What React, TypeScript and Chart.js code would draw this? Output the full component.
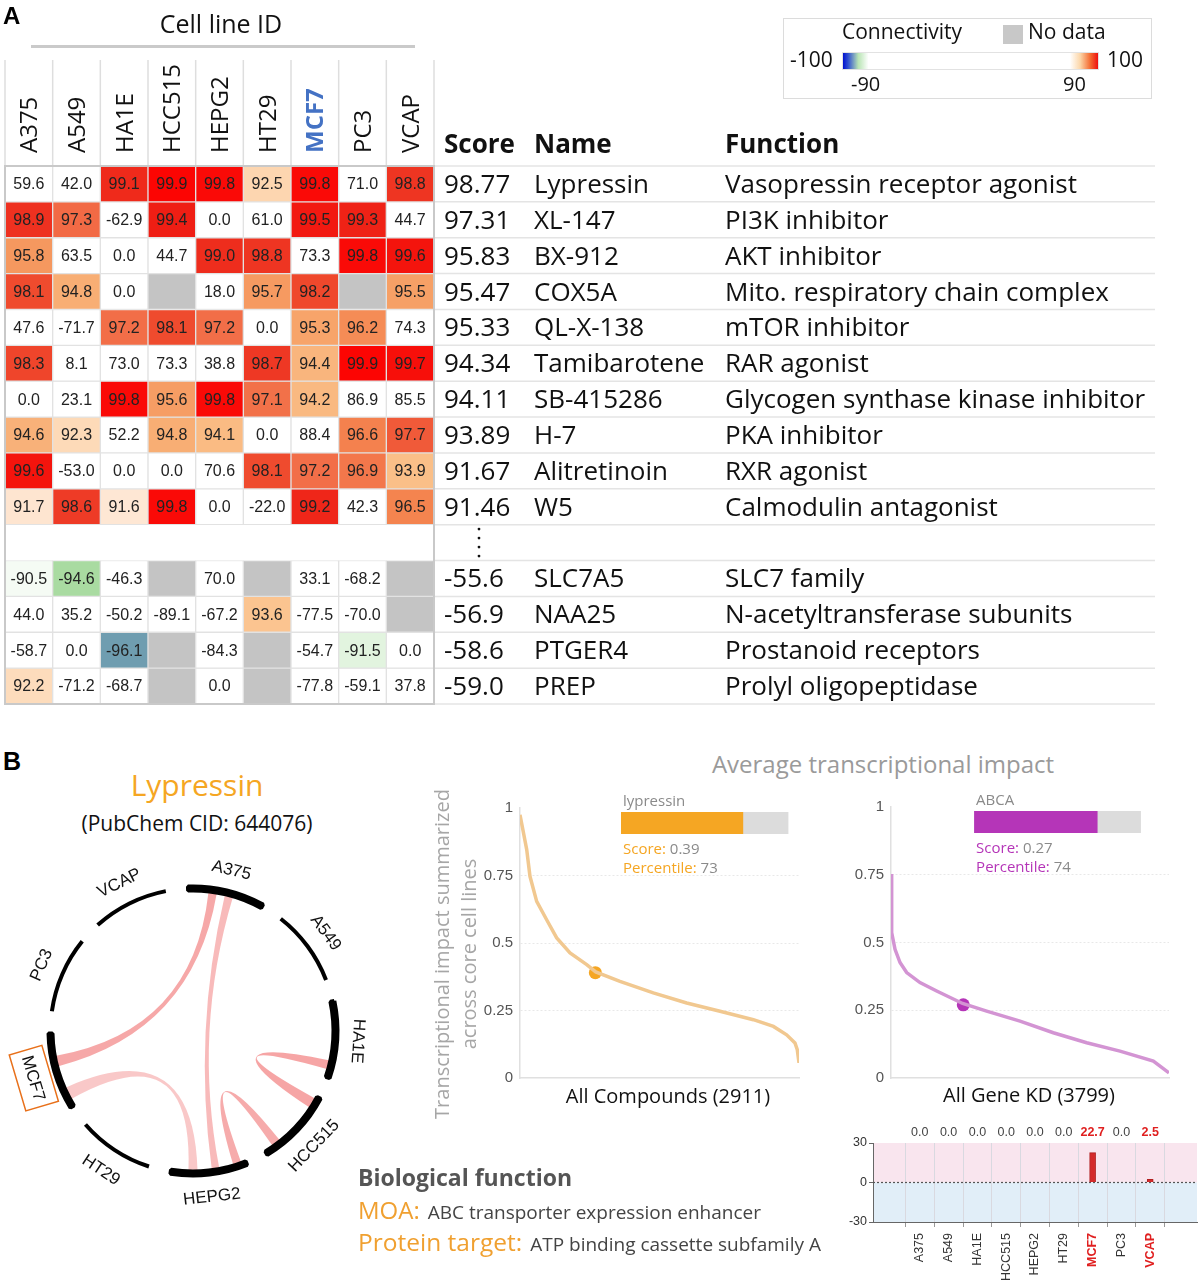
import React, { useEffect, useRef } from 'react';
import { Chart, registerables } from 'chart.js';

Chart.register(...registerables);

const OPEN = '"Open Sans", "Noto Sans", sans-serif';
const ARIAL = '"Liberation Sans", Arial, sans-serif';

// ---------------- Panel A data ----------------
const cellLines = ['A375', 'A549', 'HA1E', 'HCC515', 'HEPG2', 'HT29', 'MCF7', 'PC3', 'VCAP'];
const highlightedLine = 'MCF7';

const topScores = [98.77, 97.31, 95.83, 95.47, 95.33, 94.34, 94.11, 93.89, 91.67, 91.46];
const topNames = ['Lypressin', 'XL-147', 'BX-912', 'COX5A', 'QL-X-138', 'Tamibarotene', 'SB-415286', 'H-7', 'Alitretinoin', 'W5'];
const topFunctions = [
  'Vasopressin receptor agonist', 'PI3K inhibitor', 'AKT inhibitor', 'Mito. respiratory chain complex',
  'mTOR inhibitor', 'RAR agonist', 'Glycogen synthase kinase inhibitor', 'PKA inhibitor', 'RXR agonist',
  'Calmodulin antagonist',
];
const topConnectivity: (number | null)[][] = [
  [59.6, 42.0, 99.1, 99.9, 99.8, 92.5, 99.8, 71.0, 98.8],
  [98.9, 97.3, -62.9, 99.4, 0.0, 61.0, 99.5, 99.3, 44.7],
  [95.8, 63.5, 0.0, 44.7, 99.0, 98.8, 73.3, 99.8, 99.6],
  [98.1, 94.8, 0.0, null, 18.0, 95.7, 98.2, null, 95.5],
  [47.6, -71.7, 97.2, 98.1, 97.2, 0.0, 95.3, 96.2, 74.3],
  [98.3, 8.1, 73.0, 73.3, 38.8, 98.7, 94.4, 99.9, 99.7],
  [0.0, 23.1, 99.8, 95.6, 99.8, 97.1, 94.2, 86.9, 85.5],
  [94.6, 92.3, 52.2, 94.8, 94.1, 0.0, 88.4, 96.6, 97.7],
  [99.6, -53.0, 0.0, 0.0, 70.6, 98.1, 97.2, 96.9, 93.9],
  [91.7, 98.6, 91.6, 99.8, 0.0, -22.0, 99.2, 42.3, 96.5],
];

const bottomScores = [-55.6, -56.9, -58.6, -59.0];
const bottomNames = ['SLC7A5', 'NAA25', 'PTGER4', 'PREP'];
const bottomFunctions = ['SLC7 family', 'N-acetyltransferase subunits', 'Prostanoid receptors', 'Prolyl oligopeptidase'];
const bottomConnectivity: (number | null)[][] = [
  [-90.5, -94.6, -46.3, null, 70.0, null, 33.1, -68.2, null],
  [44.0, 35.2, -50.2, -89.1, -67.2, 93.6, -77.5, -70.0, null],
  [-58.7, 0.0, -96.1, null, -84.3, null, -54.7, -91.5, 0.0],
  [92.2, -71.2, -68.7, null, 0.0, null, -77.8, -59.1, 37.8],
];

const positiveStops: [number, string][] = [
  [90, '#ffffff'], [91.5, '#fee9d8'], [92.5, '#fdd6b0'], [94, '#fabd85'], [95.5, '#f6a066'],
  [96.5, '#f4844f'], [97.2, '#f26e48'], [98, '#ef4e30'], [98.8, '#ee3522'], [99.4, '#ef1e14'], [100, '#ff0000'],
];
const negativeStops: [number, string][] = [
  [-100, '#0010d0'], [-97.5, '#4a72b8'], [-96.1, '#6f9db0'], [-94.6, '#a9dba1'], [-91.5, '#e2f4df'], [-90, '#ffffff'],
];
const noDataColor = '#c4c4c4';

// ---------------- Panel B data ----------------
const compoundName = 'lypressin';
const compoundScore = 0.39;
const compoundPercentile = 73;
const compoundTotal = 2911;
const compoundRank = [0, 70, 104, 174, 278, 383, 522, 696, 790, 1043, 1391, 1739, 2087, 2435, 2644, 2782, 2869, 2893, 2911];
const compoundImpact = [0.975, 0.846, 0.747, 0.654, 0.586, 0.519, 0.463, 0.42, 0.393, 0.358, 0.315, 0.278, 0.247, 0.216, 0.191, 0.16, 0.13, 0.105, 0.056];

const geneName = 'ABCA';
const geneScore = 0.27;
const genePercentile = 74;
const geneTotal = 3799;
const geneRank = [0, 9, 55, 123, 214, 396, 624, 979, 1307, 1763, 2218, 2674, 3129, 3585, 3799];
const geneImpact = [0.753, 0.537, 0.475, 0.426, 0.389, 0.352, 0.321, 0.275, 0.247, 0.21, 0.167, 0.13, 0.099, 0.062, 0.019];

const impactTicks = [0, 0.25, 0.5, 0.75, 1];

const lineConnectivity = [0.0, 0.0, 0.0, 0.0, 0.0, 0.0, 22.7, 0.0, 2.5];

const ringThick = [true, false, true, true, true, false, true, false, false];
const ringSegment = 31;
const ringGap = 9;
const chordSource = ['A375', 'A375', 'MCF7', 'HA1E', 'HCC515'];
const chordTarget = ['MCF7', 'HEPG2', 'HEPG2', 'HCC515', 'HEPG2'];
const chordSourceSpan = [[0.27, 0.38], [0.49, 0.6], [0.09, 0.26], [0.78, 0.9], [0.76, 0.88]];
const chordTargetSpan = [[0.56, 0.7], [0.36, 0.46], [0.65, 0.77], [0.03, 0.17], [0.06, 0.17]];
const chordOpacity = [0.6, 0.48, 0.38, 0.62, 0.58];

// ---------------- helpers ----------------
function hexToRgb(h: string) {
  return [parseInt(h.slice(1, 3), 16), parseInt(h.slice(3, 5), 16), parseInt(h.slice(5, 7), 16)];
}
function interp(stops: [number, string][], v: number) {
  if (v <= stops[0][0]) return stops[0][1];
  for (let i = 1; i < stops.length; i++) {
    if (v <= stops[i][0]) {
      const [v0, c0] = stops[i - 1];
      const [v1, c1] = stops[i];
      const t = (v - v0) / (v1 - v0);
      const a = hexToRgb(c0), b = hexToRgb(c1);
      const m = a.map((x, k) => Math.round(x + (b[k] - x) * t));
      return `rgb(${m[0]},${m[1]},${m[2]})`;
    }
  }
  return stops[stops.length - 1][1];
}
function connectivityColor(v: number | null) {
  if (v === null) return noDataColor;
  if (v >= 90) return interp(positiveStops, v);
  if (v <= -90) return interp(negativeStops, v);
  return '#ffffff';
}
function isHighlightTick(c: any) {
  if (!c || !c.tick) return false;
  return lineConnectivity[c.tick.value - 1] > 0;
}

const heatRows = [
  ...topConnectivity.map((vals, i) => ({ row: i, vals, score: topScores[i].toFixed(2), name: topNames[i], fn: topFunctions[i] })),
  ...bottomConnectivity.map((vals, i) => ({
    row: topConnectivity.length + 1 + i, vals, score: bottomScores[i].toFixed(1), name: bottomNames[i], fn: bottomFunctions[i],
  })),
];
const totalRows = topConnectivity.length + 1 + bottomConnectivity.length;

// ---------------- Heatmap chart ----------------
function buildHeatmap() {
  const plugin = {
    id: 'heatText',
    afterDraw(chart: any) {
      const { ctx, chartArea: ca } = chart;
      const xs = chart.scales.x, ys = chart.scales.y;
      ctx.save();
      ctx.strokeStyle = '#dedede';
      ctx.lineWidth = 1.5;
      for (let c = 0; c <= cellLines.length; c++) {
        const x = xs.getPixelForValue(c - 0.5);
        ctx.beginPath();
        ctx.moveTo(x, 60);
        ctx.lineTo(x, ca.top);
        ctx.stroke();
      }
      cellLines.forEach((name, c) => {
        const hl = name === highlightedLine;
        ctx.save();
        ctx.translate(xs.getPixelForValue(c) + 8.5, ca.top - 13);
        ctx.rotate(-Math.PI / 2);
        ctx.font = `${hl ? 'bold ' : ''}24px ${OPEN}`;
        ctx.fillStyle = hl ? '#4472c4' : '#111';
        ctx.textAlign = 'left';
        ctx.textBaseline = 'alphabetic';
        ctx.fillText(name, 0, 0);
        ctx.restore();
      });
      ctx.font = `16px ${ARIAL}`;
      ctx.fillStyle = '#222';
      ctx.textAlign = 'center';
      ctx.textBaseline = 'middle';
      heatRows.forEach(({ row, vals }) => {
        vals.forEach((v, c) => {
          if (v === null) return;
          ctx.fillText(v.toFixed(1), xs.getPixelForValue(c), ys.getPixelForValue(row + 0.5) + 1);
        });
      });
      ctx.strokeStyle = '#c9c9c9';
      ctx.lineWidth = 2;
      ctx.strokeRect(ca.left, ca.top, ca.right - ca.left, ca.bottom - ca.top);
      ctx.strokeStyle = '#e4e4e4';
      ctx.lineWidth = 1.5;
      for (let r = 0; r <= totalRows; r++) {
        const y = ys.getPixelForValue(r);
        ctx.beginPath();
        ctx.moveTo(ca.right + 1, y);
        ctx.lineTo(1155, y);
        ctx.stroke();
      }
      const colScore = 444, colName = 534, colFn = 725;
      ctx.fillStyle = '#111';
      ctx.textAlign = 'left';
      ctx.textBaseline = 'alphabetic';
      ctx.font = `bold 26px ${OPEN}`;
      ctx.fillText('Score', colScore, ca.top - 13);
      ctx.fillText('Name', colName, ca.top - 13);
      ctx.fillText('Function', colFn, ca.top - 13);
      ctx.font = `26px ${OPEN}`;
      heatRows.forEach(({ row, score, name, fn }) => {
        const y = ys.getPixelForValue(row + 0.5) + 9;
        ctx.fillText(score, colScore, y);
        ctx.fillText(name, colName, y);
        ctx.fillText(fn, colFn, y);
      });
      const gy = ys.getPixelForValue(topConnectivity.length + 0.5);
      ctx.fillStyle = '#111';
      [-13.5, -4.5, 4.5, 13.5].forEach((d) => {
        ctx.beginPath();
        ctx.arc(479, gy + d, 1.4, 0, Math.PI * 2);
        ctx.fill();
      });
      ctx.restore();
    },
  };
  return {
    type: 'bar',
    data: {
      labels: cellLines,
      datasets: heatRows.map(({ row, vals }) => ({
        data: vals.map(() => [row, row + 1]),
        backgroundColor: vals.map(connectivityColor),
        borderColor: '#e2e2e2',
        borderWidth: 1,
        borderSkipped: false,
        grouped: false,
        barPercentage: 1,
        categoryPercentage: 1,
      })),
    },
    options: {
      animation: false,
      responsive: true,
      maintainAspectRatio: false,
      layout: { padding: { left: 5, right: 726, top: 166, bottom: 8 } },
      plugins: { legend: { display: false }, tooltip: { enabled: false } },
      scales: {
        x: { display: false, offset: true },
        y: { type: 'linear', display: false, min: 0, max: totalRows, reverse: true },
      },
    },
    plugins: [plugin],
  };
}

// ---------------- Chord (doughnut) chart ----------------
const RING_OUTER = 144.5;
const RING_INNER = 140.5;

function buildChord() {
  const plugin = {
    id: 'chords',
    beforeDatasetsDraw(chart: any) {
      const meta = chart.getDatasetMeta(0);
      const el0: any = meta.data[0];
      const cx = el0.x, cy = el0.y;
      const r = el0.innerRadius - 1.5;
      const ang = (line: string, f: number) => {
        const el: any = meta.data[2 * cellLines.indexOf(line)];
        return el.startAngle + f * (el.endAngle - el.startAngle);
      };
      const pt = (a: number) => [cx + r * Math.cos(a), cy + r * Math.sin(a)];
      const ctx = chart.ctx;
      ctx.save();
      chordSource.forEach((src, i) => {
        const s0 = ang(src, chordSourceSpan[i][0]);
        const s1 = ang(src, chordSourceSpan[i][1]);
        const t0 = ang(chordTarget[i], chordTargetSpan[i][0]);
        const t1 = ang(chordTarget[i], chordTargetSpan[i][1]);
        ctx.beginPath();
        const p0 = pt(s0);
        ctx.moveTo(p0[0], p0[1]);
        ctx.arc(cx, cy, r, s0, s1);
        const pt0 = pt(t0);
        ctx.quadraticCurveTo(cx, cy, pt0[0], pt0[1]);
        ctx.arc(cx, cy, r, t0, t1);
        ctx.quadraticCurveTo(cx, cy, p0[0], p0[1]);
        ctx.closePath();
        ctx.fillStyle = `rgba(240,110,110,${chordOpacity[i]})`;
        ctx.fill();
      });
      ctx.restore();
    },
    afterDatasetsDraw(chart: any) {
      const meta = chart.getDatasetMeta(0);
      const ctx = chart.ctx;
      ctx.save();
      ctx.font = `17px ${ARIAL}`;
      ctx.fillStyle = '#111';
      ctx.textAlign = 'center';
      ctx.textBaseline = 'middle';
      cellLines.forEach((name, k) => {
        const el: any = meta.data[2 * k];
        const mid = (el.startAngle + el.endAngle) / 2;
        let deg = (mid * 180) / Math.PI + 90;
        deg = ((deg % 360) + 360) % 360;
        let rot = deg;
        if (deg > 100 && deg < 260) rot = deg - 180;
        else if (deg >= 260) rot = deg - 360;
        const R = 166;
        ctx.save();
        ctx.translate(el.x + R * Math.cos(mid), el.y + R * Math.sin(mid));
        ctx.rotate((rot * Math.PI) / 180);
        ctx.fillText(name, 0, 1);
        if (name === highlightedLine) {
          const w = ctx.measureText(name).width;
          ctx.strokeStyle = '#e8701a';
          ctx.lineWidth = 1.5;
          ctx.strokeRect(-w / 2 - 6, -17, w + 12, 34);
        }
        ctx.restore();
      });
      ctx.restore();
    },
  };
  return {
    type: 'doughnut',
    data: {
      labels: cellLines.flatMap((n) => [n, '']),
      datasets: [
        {
          data: cellLines.flatMap(() => [ringSegment, ringGap]),
          backgroundColor: (c: any) => (c.dataIndex % 2 === 0 ? '#000000' : 'rgba(0,0,0,0)'),
          borderColor: '#000000',
          borderWidth: (c: any) => (c.dataIndex !== undefined && c.dataIndex % 2 === 0 && ringThick[c.dataIndex / 2] ? 4 : 0),
          hoverOffset: 0,
        },
      ],
    },
    options: {
      animation: false,
      responsive: true,
      maintainAspectRatio: false,
      rotation: -2,
      radius: RING_OUTER,
      cutout: `${(RING_INNER / RING_OUTER) * 100}%`,
      layout: { padding: 0 },
      plugins: { legend: { display: false }, tooltip: { enabled: false } },
    },
    plugins: [plugin],
  };
}

// ---------------- Impact curve charts ----------------
function buildImpact(cfg: {
  rank: number[]; impact: number[]; total: number; score: number; percentile: number; name: string;
  line: string; marker: string; insetStart: number; leftW: number; bottomH: number; padTop: number; padRight: number;
}) {
  const markerRank = (cfg.total * (100 - cfg.percentile)) / 100;
  const plugin = {
    id: 'inset',
    afterDraw(chart: any) {
      const { ctx, chartArea: ca } = chart;
      const w = ca.right - ca.left;
      const x0 = ca.left + w * cfg.insetStart;
      const bw = w * 0.6;
      const y0 = ca.top + 4;
      ctx.save();
      ctx.fillStyle = '#dcdcdc';
      ctx.fillRect(x0, y0, bw, 22);
      ctx.fillStyle = cfg.marker;
      ctx.fillRect(x0, y0, (bw * cfg.percentile) / 100, 22);
      ctx.textAlign = 'left';
      ctx.textBaseline = 'alphabetic';
      ctx.font = `15px ${OPEN}`;
      ctx.fillStyle = '#8a8a8a';
      ctx.fillText(cfg.name, x0 + 2, ca.top - 2);
      ctx.font = `15px ${OPEN}`;
      const lines: [string, string, number][] = [
        ['Score: ', cfg.score.toFixed(2), 46],
        ['Percentile: ', String(cfg.percentile), 65],
      ];
      lines.forEach(([lab, val, dy]) => {
        ctx.fillStyle = cfg.marker;
        ctx.fillText(lab, x0 + 2, ca.top + dy);
        const lw = ctx.measureText(lab).width;
        ctx.fillStyle = '#8a8a8a';
        ctx.fillText(val, x0 + 2 + lw, ca.top + dy);
      });
      ctx.restore();
    },
  };
  return {
    type: 'scatter',
    data: {
      datasets: [
        {
          data: cfg.rank.map((x, i) => ({ x, y: cfg.impact[i] })),
          showLine: true,
          borderColor: cfg.line,
          borderWidth: 3.5,
          pointRadius: 0,
          tension: 0,
        },
        {
          data: [{ x: markerRank, y: cfg.score }],
          pointRadius: 6.5,
          backgroundColor: cfg.marker,
          borderWidth: 0,
        },
      ],
    },
    options: {
      animation: false,
      responsive: true,
      maintainAspectRatio: false,
      layout: { padding: { left: 0, top: cfg.padTop, right: cfg.padRight, bottom: 0 } },
      plugins: { legend: { display: false }, tooltip: { enabled: false } },
      scales: {
        x: {
          type: 'linear', min: 0, max: cfg.total,
          ticks: { display: false },
          grid: { display: false, drawTicks: false },
          border: { color: '#e0e0e0', width: 1.5 },
          afterFit: (s: any) => { s.height = cfg.bottomH; },
        },
        y: {
          min: 0, max: 1,
          afterBuildTicks: (s: any) => { s.ticks = impactTicks.map((v) => ({ value: v })); },
          ticks: {
            callback: (v: any) => String(v),
            color: '#555',
            font: { family: ARIAL, size: 15 },
            padding: 7,
          },
          grid: {
            color: (c: any) => (c && c.tick && c.tick.value > 0 && c.tick.value < 1 ? '#e8e8e8' : 'rgba(0,0,0,0)'),
            drawTicks: false,
          },
          border: { color: '#e0e0e0', width: 1.5, dash: [2, 2] },
          afterFit: (s: any) => { s.width = cfg.leftW; },
        },
      },
    },
    plugins: [plugin],
  };
}

// ---------------- Per cell line bar chart ----------------
function buildLineBars() {
  const plugin = {
    id: 'bands',
    beforeDraw(chart: any) {
      const { ctx, chartArea: ca } = chart;
      const y0 = chart.scales.y.getPixelForValue(0);
      ctx.save();
      ctx.fillStyle = '#f9e5ee';
      ctx.fillRect(ca.left, ca.top, ca.right - ca.left, y0 - ca.top);
      ctx.fillStyle = '#e1eef8';
      ctx.fillRect(ca.left, y0, ca.right - ca.left, ca.bottom - y0);
      ctx.restore();
    },
    beforeDatasetsDraw(chart: any) {
      const { ctx, chartArea: ca } = chart;
      const y0 = chart.scales.y.getPixelForValue(0);
      ctx.save();
      ctx.strokeStyle = '#555';
      ctx.lineWidth = 1.2;
      ctx.setLineDash([2, 2]);
      ctx.beginPath();
      ctx.moveTo(ca.left, y0);
      ctx.lineTo(ca.right, y0);
      ctx.stroke();
      ctx.restore();
    },
    afterDraw(chart: any) {
      const { ctx, chartArea: ca } = chart;
      const xs = chart.scales.x;
      ctx.save();
      ctx.textAlign = 'center';
      ctx.textBaseline = 'alphabetic';
      lineConnectivity.forEach((v, i) => {
        const hl = v > 0;
        ctx.font = `${hl ? 'bold ' : ''}12.5px ${ARIAL}`;
        ctx.fillStyle = hl ? '#e02020' : '#444';
        ctx.fillText(v.toFixed(1), xs.getPixelForValue(i + 1), ca.top - 7);
      });
      ctx.restore();
    },
  };
  return {
    type: 'bar',
    data: {
      datasets: [
        {
          data: lineConnectivity.map((v, i) => ({ x: i + 1, y: v })),
          backgroundColor: (c: any) => (c && c.raw && c.raw.y !== 0 ? '#d42a2a' : 'rgba(0,0,0,0)'),
          borderColor: '#b01e1e',
          borderWidth: (c: any) => (c && c.raw && c.raw.y !== 0 ? 1 : 0),
          barThickness: 6,
        },
      ],
    },
    options: {
      animation: false,
      responsive: true,
      maintainAspectRatio: false,
      layout: { padding: { left: 0, top: 25, right: 3, bottom: 0 } },
      plugins: { legend: { display: false }, tooltip: { enabled: false } },
      scales: {
        x: {
          type: 'linear', min: 0, max: cellLines.length + 1,
          afterBuildTicks: (s: any) => { s.ticks = cellLines.map((_, i) => ({ value: i + 1 })); },
          ticks: {
            autoSkip: false, minRotation: 90, maxRotation: 90, padding: 6,
            callback: (v: any) => cellLines[v - 1] ?? '',
            color: (c: any) => (isHighlightTick(c) ? '#e02020' : '#333'),
            font: (c: any) => ({ family: ARIAL, size: 12.5, weight: isHighlightTick(c) ? 'bold' : 'normal' }),
          },
          grid: { color: '#d9d9e0', tickLength: 5, tickColor: '#999' },
          border: { color: '#666', width: 1 },
          afterFit: (s: any) => { s.height = 65; },
        },
        y: {
          min: -30, max: 30,
          ticks: { stepSize: 30, color: '#333', font: { family: ARIAL, size: 12.5 }, padding: 2 },
          grid: { drawOnChartArea: false, tickLength: 4, tickColor: '#666' },
          border: { color: '#666', width: 1 },
          afterFit: (s: any) => { s.width = 33; },
        },
      },
    },
    plugins: [plugin],
  };
}

// ---------------- components ----------------
function ChartCanvas({ left, top, width, height, build }: { left: number; top: number; width: number; height: number; build: () => any }) {
  const ref = useRef<HTMLCanvasElement | null>(null);
  useEffect(() => {
    if (!ref.current) return;
    let chart: any = null;
    try {
      chart = new Chart(ref.current, build());
    } catch (e) {
      console.error(e);
    }
    return () => { if (chart) chart.destroy(); };
  }, []);
  return (
    <div style={{ position: 'absolute', left, top, width, height }}>
      <canvas ref={ref} />
    </div>
  );
}

const bt = (baseline: number, size: number) => baseline - 0.888 * size;

function Txt(p: { left: number; top: number; size: number; color?: string; weight?: any; family?: string; width?: number; align?: any; children: any; style?: any }) {
  return (
    <div
      style={{
        position: 'absolute', left: p.left, top: p.top, fontSize: p.size, lineHeight: 1, color: p.color || '#222',
        fontWeight: p.weight || 400, fontFamily: p.family || OPEN, whiteSpace: 'nowrap', width: p.width, textAlign: p.align,
        ...(p.style || {}),
      }}
    >
      {p.children}
    </div>
  );
}

export default function App() {
  return (
    <div style={{ position: 'absolute', left: 0, top: 0, width: 1200, height: 1287, background: '#fff', overflow: 'hidden', fontFamily: OPEN }}>
      <ChartCanvas left={0} top={0} width={1160} height={712} build={buildHeatmap} />
      <ChartCanvas left={0} top={843} width={386} height={376} build={buildChord} />
      <ChartCanvas
        left={425} top={780} width={385} height={345}
        build={() => buildImpact({
          rank: compoundRank, impact: compoundImpact, total: compoundTotal, score: compoundScore, percentile: compoundPercentile,
          name: compoundName, line: '#f1c890', marker: '#f5a623', insetStart: 0.362, leftW: 95, bottomH: 47, padTop: 28, padRight: 11,
        })}
      />
      <ChartCanvas
        left={830} top={780} width={355} height={320}
        build={() => buildImpact({
          rank: geneRank, impact: geneImpact, total: geneTotal, score: geneScore, percentile: genePercentile,
          name: geneName, line: '#d394d3', marker: '#b535b8', insetStart: 0.299, leftW: 61, bottomH: 22, padTop: 27, padRight: 16,
        })}
      />
      <ChartCanvas left={840} top={1118} width={360} height={169} build={buildLineBars} />

      <Txt left={3} top={24 - 0.846 * 24} size={24} weight={700} family={ARIAL} color="#000">A</Txt>
      <Txt left={121} top={bt(33, 25)} size={25} width={200} align="center" color="#111">Cell line ID</Txt>
      <div style={{ position: 'absolute', left: 31, top: 45, width: 384, height: 3, background: '#cacaca' }} />

      <div style={{ position: 'absolute', left: 783, top: 18, width: 369, height: 81, border: '1.5px solid #dcdcdc', boxSizing: 'border-box' }} />
      <Txt left={842} top={bt(40, 21)} size={21} color="#111">Connectivity</Txt>
      <div style={{ position: 'absolute', left: 1003, top: 25, width: 20, height: 19, background: '#c8c8c8' }} />
      <Txt left={1028} top={bt(40, 21)} size={21} color="#111">No data</Txt>
      <Txt left={790} top={bt(68, 21)} size={21} color="#111">-100</Txt>
      <div
        style={{
          position: 'absolute', left: 842, top: 52, width: 257, height: 18, border: '1px solid #e2e2e2', boxSizing: 'border-box',
          background: 'linear-gradient(to right, #0010d0 0%, #3050d0 2%, #b8e4b4 6%, #ffffff 10%, #ffffff 89%, #fcd6a8 93%, #f46a30 97%, #ee1010 100%)',
        }}
      />
      <Txt left={1107} top={bt(68, 21)} size={21} color="#111">100</Txt>
      <Txt left={851} top={bt(92, 20)} size={20} color="#111">-90</Txt>
      <Txt left={1063} top={bt(92, 20)} size={20} color="#111">90</Txt>

      <Txt left={3} top={770 - 0.846 * 25} size={25} weight={700} family={ARIAL} color="#000">B</Txt>
      <Txt left={47} top={bt(797, 30)} size={30} width={300} align="center" color="#f5a623">Lypressin</Txt>
      <Txt left={47} top={bt(832, 21)} size={21} width={300} align="center" color="#111">(PubChem CID: 644076)</Txt>
      <Txt left={633} top={bt(773, 24)} size={24} width={500} align="center" color="#9a9a9a">Average transcriptional impact</Txt>
      <div
        style={{
          position: 'absolute', left: 275, top: 927, width: 360, height: 54, transform: 'rotate(-90deg)', transformOrigin: '50% 50%',
          fontSize: 20, lineHeight: '27px', color: '#a6a6a6', textAlign: 'center', whiteSpace: 'nowrap', fontFamily: OPEN,
        }}
      >
        Transcriptional impact summarized
        <br />
        across core cell lines
      </div>
      <Txt left={518} top={bt(1104, 20)} size={20} width={300} align="center" color="#111">All Compounds (2911)</Txt>
      <Txt left={879} top={bt(1103, 20)} size={20} width={300} align="center" color="#111">All Gene KD (3799)</Txt>

      <Txt left={358} top={bt(1186, 23)} size={23} weight={700} color="#555">Biological function</Txt>
      <div style={{ position: 'absolute', left: 358, top: bt(1219, 24), display: 'flex', alignItems: 'baseline', whiteSpace: 'nowrap', lineHeight: 1, fontFamily: OPEN }}>
        <span style={{ fontSize: 24, color: '#f0a030' }}>MOA:</span>
        <span style={{ fontSize: 19, color: '#444', marginLeft: 8 }}>ABC transporter expression enhancer</span>
      </div>
      <div style={{ position: 'absolute', left: 358, top: bt(1251, 24), display: 'flex', alignItems: 'baseline', whiteSpace: 'nowrap', lineHeight: 1, fontFamily: OPEN }}>
        <span style={{ fontSize: 24.5, color: '#f0a030' }}>Protein target:</span>
        <span style={{ fontSize: 19, color: '#444', marginLeft: 8 }}>ATP binding cassette subfamily A</span>
      </div>
    </div>
  );
}
